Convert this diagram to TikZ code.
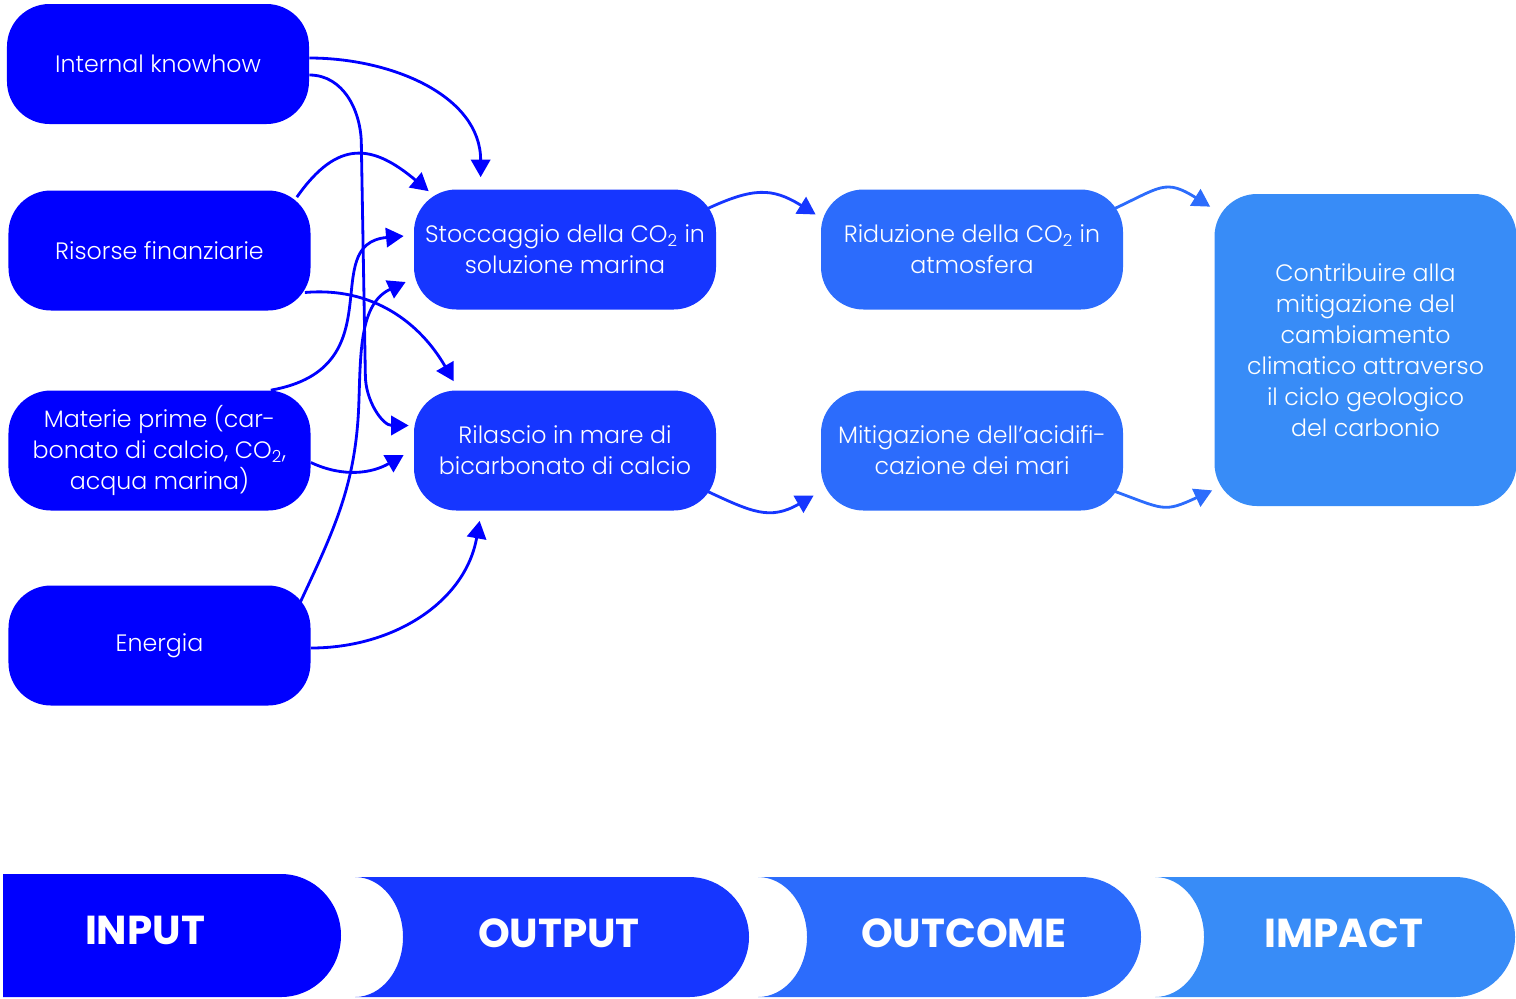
\documentclass[tikz,border=0pt]{standalone}
\usepackage{fontspec}
\setmainfont{Poppins}
\newfontfamily\lightfont{Poppins Light}
\usetikzlibrary{arrows.meta,backgrounds}
\definecolor{inblue}{RGB}{0,0,255}
\definecolor{outblue}{RGB}{22,54,255}
\definecolor{ocblue}{RGB}{44,108,252}
\definecolor{imblue}{RGB}{56,140,247}
\begin{document}
\begin{tikzpicture}[x=0.2cm,y=0.2cm]
\tikzstyle{every node}+=[inner sep=0pt]
\tikzstyle{box}=[rounded corners=0.85cm, minimum width=6.04cm, minimum height=2.4cm, align=center, text=white, font=\lightfont\fontsize{13.5}{17.6}\selectfont]
\tikzstyle{flow}=[line width=1.6pt, -{Triangle[length=10pt,width=11pt]}]
\tikzstyle{band}=[text=white, font=\bfseries\fontsize{23}{23}\selectfont]
\useasboundingbox (0,0) rectangle (151.6,-99.8);
\node [box, fill=inblue] (know) at (15.8,-6.4) {Internal knowhow};
\node [box, fill=inblue] (fin) at (15.95,-25.05) {Risorse finanziarie};
\node [box, fill=inblue] (mat) at (15.95,-45.05) {Materie prime (car-\\bonato di calcio, CO\textsubscript{2},\\acqua marina)};
\node [box, fill=inblue] (energy) at (15.95,-64.55) {Energia};
\node [box, fill=outblue] (stock) at (56.5,-24.95) {Stoccaggio della CO\textsubscript{2} in\\soluzione marina};
\node [box, fill=outblue] (release) at (56.5,-45.05) {Rilascio in mare di\\bicarbonato di calcio};
\node [box, fill=ocblue] (reduce) at (97.2,-24.95) {Riduzione della CO\textsubscript{2} in\\atmosfera};
\node [box, fill=ocblue] (acid) at (97.2,-45.05) {Mitigazione dell’acidifi-\\cazione dei mari};
\node [box, fill=imblue, minimum height=6.24cm] (goal) at (136.55,-35) {Contribuire alla\\mitigazione del\\cambiamento\\climatico attraverso\\il ciclo geologico\\del carbonio};
\begin{scope}[on background layer]
\draw [flow, inblue] ([yshift=0.12cm]know.east) to[out=0,in=90] ([xshift=1.34cm,yshift=0.24cm]stock.north west);
\draw [flow, inblue] ([yshift=-0.22cm]know.east) to[out=0,in=90] ++(5.2,-7) -- ++(0.4,-23) to[out=-90,in=180] ([xshift=-0.1cm,yshift=0.5cm]release.west);
\draw [flow, inblue] ([xshift=-0.28cm,yshift=-0.14cm]fin.north east) to[out=55,in=140,looseness=1.4] ([xshift=0.3cm,yshift=-0.04cm]stock.north west);
\draw [flow, inblue] ([xshift=-0.12cm,yshift=-0.84cm]fin.east) to[out=5,in=120] ([xshift=0.8cm,yshift=0.18cm]release.north west);
\draw [flow, inblue] ([xshift=-0.8cm]mat.north east) to[out=10,in=185,out looseness=1.6,in looseness=1.1] ([xshift=-0.2cm,yshift=0.27cm]stock.west);
\draw [flow, inblue] ([yshift=-0.24cm]mat.east) to[out=-25,in=210] ([xshift=-0.2cm,yshift=-0.09cm]release.west);
\draw [flow, inblue] ([xshift=-0.22cm,yshift=-0.36cm]energy.north east) to[out=65,in=-92] ++(5.9,20) to[out=88,in=205] ([xshift=-0.16cm,yshift=-0.65cm]stock.west);
\draw [flow, inblue] ([yshift=-0.05cm]energy.east) to[out=0,in=-100] ([xshift=1.32cm,yshift=-0.2cm]release.south west);
\draw [flow, outblue] ([xshift=-0.2cm,yshift=-0.4cm]stock.north east) to[out=25,in=148,looseness=1.2] ([xshift=-0.1cm,yshift=0.7cm]reduce.west);
\draw [flow, outblue] ([xshift=-0.2cm,yshift=0.4cm]release.south east) to[out=-25,in=210,looseness=1.2] ([xshift=-0.14cm,yshift=-0.9cm]acid.west);
\draw [flow, ocblue] ([xshift=-0.2cm,yshift=-0.4cm]reduce.north east) to[out=25,in=148,looseness=1.4] ([xshift=-0.08cm,yshift=-0.26cm]goal.north west);
\draw [flow, ocblue] ([xshift=-0.2cm,yshift=0.4cm]acid.south east) to[out=-20,in=205,looseness=1.4] ([xshift=-0.04cm,yshift=0.32cm]goal.south west);
\end{scope}
\fill [inblue] (0.3,-87.4) -- (28.1,-87.4) arc[start angle=90,end angle=-90,x radius=6,y radius=6.15] -- (0.3,-99.7) -- cycle;
\fill [outblue] (35.5,-87.7) -- (68.9,-87.7) arc[start angle=90,end angle=-90,x radius=6,y radius=6] -- (35.5,-99.7) arc[start angle=-90,end angle=90,x radius=4.8,y radius=6] -- cycle;
\fill [ocblue] (75.8,-87.7) -- (108.1,-87.7) arc[start angle=90,end angle=-90,x radius=6,y radius=6] -- (75.8,-99.7) arc[start angle=-90,end angle=90,x radius=4.9,y radius=6] -- cycle;
\fill [imblue] (115.5,-87.7) -- (145.5,-87.7) arc[start angle=90,end angle=-90,x radius=6,y radius=6] -- (115.5,-99.7) arc[start angle=-90,end angle=90,x radius=4.9,y radius=6] -- cycle;
\node [band] (inlab) at (14.5,-93) {INPUT};
\node [band] (outlab) at (55.9,-93.3) {OUTPUT};
\node [band] (oclab) at (96.4,-93.3) {OUTCOME};
\node [band] (imlab) at (134.4,-93.3) {IMPACT};
\end{tikzpicture}
\end{document}
